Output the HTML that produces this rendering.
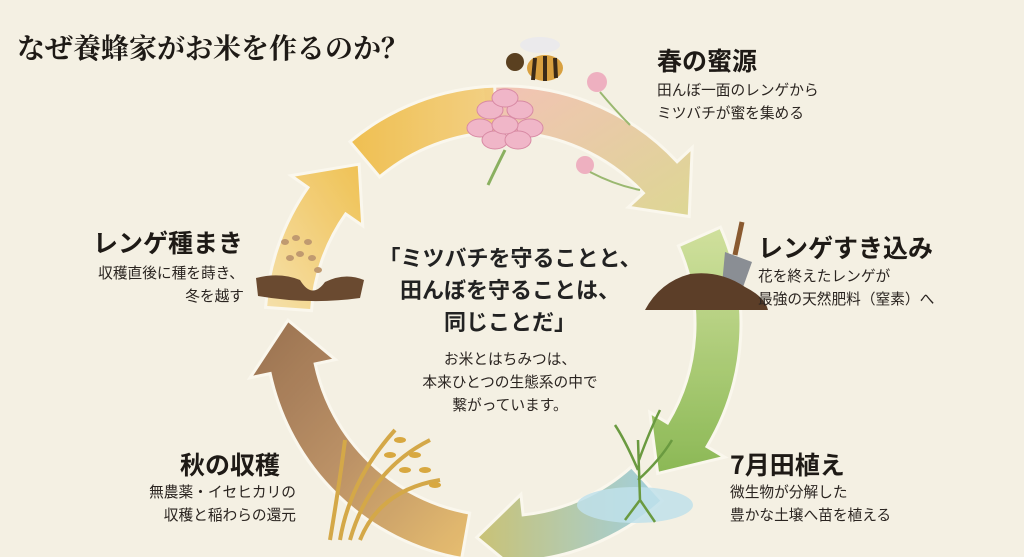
<!DOCTYPE html>
<html><head><meta charset="utf-8"><style>
body{margin:0;width:1024px;height:557px;overflow:hidden;background:#f4f0e3;position:relative;font-family:"Liberation Sans","Noto Sans CJK JP",sans-serif;color:#1e1a16}
.t{position:absolute;white-space:nowrap}
.h{font-family:"Noto Sans CJK JP",sans-serif;font-weight:bold;font-size:25px}
.s{font-size:14.7px;line-height:23px;color:#2a2420}
</style></head><body>
<svg id="g" width="1024" height="557" style="position:absolute;left:0;top:0">
<defs>
<linearGradient id="g1" x1="0" y1="0" x2="1" y2="1"><stop offset="0" stop-color="#f3c0b4"/><stop offset="1" stop-color="#dcd690"/></linearGradient>
<linearGradient id="g2" x1="0" y1="0" x2="0" y2="1"><stop offset="0" stop-color="#cfe09a"/><stop offset="1" stop-color="#86b64e"/></linearGradient>
<linearGradient id="g3" x1="1" y1="0" x2="0" y2="0"><stop offset="0" stop-color="#9ccfe0"/><stop offset="1" stop-color="#c8c070"/></linearGradient>
<linearGradient id="g4" x1="1" y1="1" x2="0" y2="0"><stop offset="0" stop-color="#e8bd6a"/><stop offset="0.5" stop-color="#b88c60"/><stop offset="1" stop-color="#946a48"/></linearGradient>
<linearGradient id="g5" x1="0" y1="1" x2="1" y2="0"><stop offset="0" stop-color="#f6e0a8"/><stop offset="1" stop-color="#efbf4c"/></linearGradient>
<linearGradient id="g6" x1="0" y1="0" x2="1" y2="0"><stop offset="0" stop-color="#efbd4a"/><stop offset="1" stop-color="#f3cf80"/></linearGradient>
</defs>
</svg>
<script>
var cx=503,cy=324,R=215,w=46;
function p(r,a){a=a*Math.PI/180;return (cx+r*Math.cos(a)).toFixed(1)+","+(cy+r*Math.sin(a)).toFixed(1)}
function arrow(a0,a1,fill,head){var h=head?13:0,Ro=R+w/2,Ri=R-w/2;
var d="M"+p(Ro,a0)+" A"+Ro+","+Ro+" 0 0 1 "+p(Ro,a1-h);
if(head){d+=" L"+p(R+w*0.95,a1-h)+" L"+p(R,a1)+" L"+p(R-w*0.95,a1-h)+" L"+p(Ri,a1-h);}else{d+=" L"+p(Ri,a1);}
d+=" A"+Ri+","+Ri+" 0 0 0 "+p(Ri,a0)+" Z";
return '<path d="'+d+'" fill="'+fill+'" stroke="#fbf8ee" stroke-width="3" opacity="0.95"/>'}
var s="";
s+=arrow(-95,-30,"url(#g1)",1);
s+=arrow(-24,44,"url(#g2)",1);
s+=arrow(48,97,"url(#g3)",1);
s+=arrow(100,181,"url(#g4)",1);
s+=arrow(184,228,"url(#g5)",1);
s+=arrow(230,268,"url(#g6)",0);
s+='<path d="M505,150 Q495,170 488,185" stroke="#8ab060" stroke-width="3" fill="none"/>';
var pet=[[490,110],[520,110],[480,128],[530,128],[495,140],[518,140],[505,98],[505,125]];
pet.forEach(function(q){s+='<ellipse cx="'+q[0]+'" cy="'+q[1]+'" rx="13" ry="9" fill="#f0b6c8" stroke="#d88aa4" stroke-width="1"/>'});
s+='<circle cx="597" cy="82" r="10" fill="#eeb0c0"/><circle cx="585" cy="165" r="9" fill="#eeb0c0"/>';
s+='<path d="M600,92 Q615,110 630,125 M590,172 Q615,185 640,190" stroke="#9ab870" stroke-width="2" fill="none"/>';
s+='<ellipse cx="545" cy="68" rx="18" ry="13" fill="#d8a040"/><path d="M535,58 L533,80 M545,56 L545,81 M555,58 L556,78" stroke="#3a2a18" stroke-width="4"/><circle cx="515" cy="62" r="9" fill="#5a4020"/><ellipse cx="540" cy="45" rx="20" ry="8" fill="#e8e8ee" opacity="0.8"/>';
s+='<path d="M742,222 L735,255" stroke="#8a5a30" stroke-width="5"/><path d="M725,252 L752,262 L742,290 L722,285 Z" fill="#8a8e94"/>';
s+='<path d="M645,310 Q660,282 690,274 Q720,270 745,287 Q765,297 768,310 Z" fill="#5c3e28"/>';
s+='<path d="M256,278 Q280,272 300,280 Q312,300 325,282 Q345,272 364,280 L360,298 Q310,305 258,296 Z" fill="#6a4a30"/>';
[[285,242],[296,238],[308,242],[300,254],[312,258],[318,270],[290,258]].forEach(function(q){s+='<ellipse cx="'+q[0]+'" cy="'+q[1]+'" rx="4" ry="3" fill="#c09a70"/>'});
s+='<ellipse cx="635" cy="505" rx="58" ry="18" fill="#bfe0ea" opacity="0.85"/>';
s+='<path d="M640,500 L638,440 M638,470 Q625,440 615,425 M639,460 Q650,430 660,410 M638,480 Q660,460 672,440 M640,500 L625,520 M640,500 L655,522" stroke="#6a9a40" stroke-width="2.5" fill="none"/>';
s+='<path d="M340,540 Q350,480 395,430 M350,540 Q370,470 430,440 M360,540 Q380,490 440,480 M330,540 Q340,480 345,440" stroke="#d4a848" stroke-width="4" fill="none"/>';
[[400,440],[415,455],[425,470],[435,485],[390,455],[405,470]].forEach(function(q){s+='<ellipse cx="'+q[0]+'" cy="'+q[1]+'" rx="6" ry="3" fill="#d8a840"/>'});
document.getElementById("g").innerHTML+=s;
</script>
<div class="t" style="left:17px;top:27px;font-family:'Noto Serif CJK SC',serif;font-weight:bold;font-size:28px">なぜ養蜂家がお米を作るのか？</div>
<div class="t h" style="left:657px;top:42px">春の蜜源</div>
<div class="t s" style="left:657px;top:80px">田んぼ一面のレンゲから<br>ミツバチが蜜を集める</div>
<div class="t h" style="left:758px;top:229px">レンゲすき込み</div>
<div class="t s" style="left:758px;top:266px">花を終えたレンゲが<br>最強の天然肥料（窒素）へ</div>
<div class="t h" style="left:730px;top:446px">7月田植え</div>
<div class="t s" style="left:730px;top:482px">微生物が分解した<br>豊かな土壌へ苗を植える</div>
<div class="t h" style="left:93px;top:224px">レンゲ種まき</div>
<div class="t s" style="right:780px;top:263px;text-align:right">収穫直後に種を蒔き、<br>冬を越す</div>
<div class="t h" style="left:180px;top:446px">秋の収穫</div>
<div class="t s" style="right:728px;top:482px;text-align:right">無農薬・イセヒカリの<br>収穫と稲わらの還元</div>
<div class="t" style="left:360px;width:300px;top:243px;text-align:center;font-size:22px;line-height:32px;font-weight:bold;color:#222">「ミツバチを守ることと、<br>田んぼを守ることは、<br>同じことだ」</div>
<div class="t s" style="left:360px;width:300px;top:349px;text-align:center">お米とはちみつは、<br>本来ひとつの生態系の中で<br>繋がっています。</div>
</body></html>
